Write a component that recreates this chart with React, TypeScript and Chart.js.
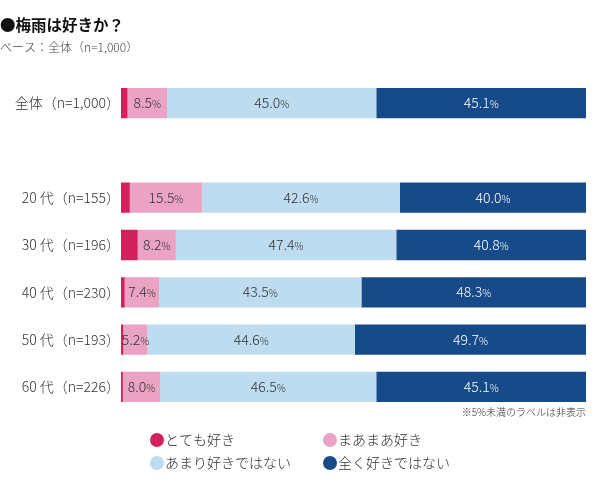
import React, { useEffect, useRef } from "react";
import { Chart, registerables } from "chart.js";

Chart.register(...registerables);

const categories = ["全体（n=1,000）", "", "20 代（n=155）", "30 代（n=196）", "40 代（n=230）", "50 代（n=193）", "60 代（n=226）"];
const seriesNames = ["とても好き", "まあまあ好き", "あまり好きではない", "全く好きではない"];
const veryLike = [1.4, null, 1.9, 3.6, 0.8, 0.5, 0.4];
const somewhatLike = [8.5, null, 15.5, 8.2, 7.4, 5.2, 8.0];
const notMuch = [45.0, null, 42.6, 47.4, 43.5, 44.6, 46.5];
const notAtAll = [45.1, null, 40.0, 40.8, 48.3, 49.7, 45.1];
const colors = ["#d3215e", "#eaa3c3", "#bddcf0", "#174a88"];

const FONT = "'Noto Sans CJK JP', 'Noto Sans', sans-serif";

const textPlugin = {
  id: "texts",
  afterDatasetsDraw(chart: any) {
    const ctx = chart.ctx;
    ctx.save();
    chart.data.datasets.forEach((ds: any, di: number) => {
      const meta = chart.getDatasetMeta(di);
      meta.data.forEach((el: any, i: number) => {
        const v = ds.data[i];
        if (v == null || v < 5) return;
        const num = v.toFixed(1);
        ctx.font = `300 14px ${FONT}`;
        const w1 = ctx.measureText(num).width;
        ctx.font = `300 10px ${FONT}`;
        const w2 = ctx.measureText("%").width;
        const cx = (el.x + el.base) / 2;
        const start = cx - (w1 + w2) / 2;
        ctx.fillStyle = di === 3 ? "#ffffff" : "#333333";
        ctx.textBaseline = "alphabetic";
        ctx.textAlign = "left";
        ctx.font = `300 14px ${FONT}`;
        ctx.fillText(num, start, el.y + 5);
        ctx.font = `300 10px ${FONT}`;
        ctx.fillText("%", start + w1, el.y + 5);
      });
    });
    ctx.restore();
  },
  afterDraw(chart: any) {
    const ctx = chart.ctx;
    ctx.save();
    ctx.textBaseline = "middle";
    ctx.textAlign = "left";
    ctx.fillStyle = "#111111";
    ctx.font = `bold 15.5px ${FONT}`;
    ctx.fillText("●梅雨は好きか？", 0, 25);
    ctx.fillStyle = "#444444";
    ctx.font = `300 12px ${FONT}`;
    ctx.fillText("ベース：全体（n=1,000）", 0, 47);
    ctx.textAlign = "right";
    ctx.font = `300 10px ${FONT}`;
    ctx.fillStyle = "#333333";
    ctx.fillText("※5%未満のラベルは非表示", chart.chartArea.right, 412);
    const pos = [
      [157, 440],
      [330, 440],
      [157, 463],
      [330, 463],
    ];
    seriesNames.forEach((name, i) => {
      const [x, y] = pos[i];
      ctx.beginPath();
      ctx.fillStyle = colors[i];
      ctx.arc(x, y, 7, 0, Math.PI * 2);
      ctx.fill();
      ctx.fillStyle = "#333333";
      ctx.textAlign = "left";
      ctx.font = `300 14px ${FONT}`;
      ctx.fillText(name, x + 8, y);
    });
    ctx.restore();
  },
};

export default function App() {
  const ref = useRef<HTMLCanvasElement>(null);
  useEffect(() => {
    if (!ref.current) return;
    const chart = new Chart(ref.current, {
      type: "bar",
      data: {
        labels: categories,
        datasets: [veryLike, somewhatLike, notMuch, notAtAll].map((d, i) => ({
          label: seriesNames[i],
          data: d,
          backgroundColor: colors[i],
          borderWidth: 0,
          barPercentage: 0.8,
          categoryPercentage: 0.8,
        })),
      },
      options: {
        indexAxis: "y",
        animation: false,
        responsive: false,
        layout: { padding: { top: 79.5, bottom: 79.5, right: 14, left: 0 } },
        plugins: { legend: { display: false }, tooltip: { enabled: false }, title: { display: false } },
        scales: {
          x: { stacked: true, min: 0, max: 100, display: false },
          y: {
            stacked: true,
            grid: { display: false, drawTicks: false },
            border: { display: false },
            ticks: { padding: 1, color: "#333333", font: { family: FONT, size: 14, weight: "300" } },
            afterFit(scale: any) {
              scale.width = 121;
            },
          },
        },
      },
      plugins: [textPlugin],
    } as any);
    return () => chart.destroy();
  }, []);
  return (
    <div style={{ position: "fixed", left: 0, top: 0, width: 600, height: 490, background: "#fff" }}>
      <canvas ref={ref} width={600} height={490} style={{ width: 600, height: 490 }} />
    </div>
  );
}
